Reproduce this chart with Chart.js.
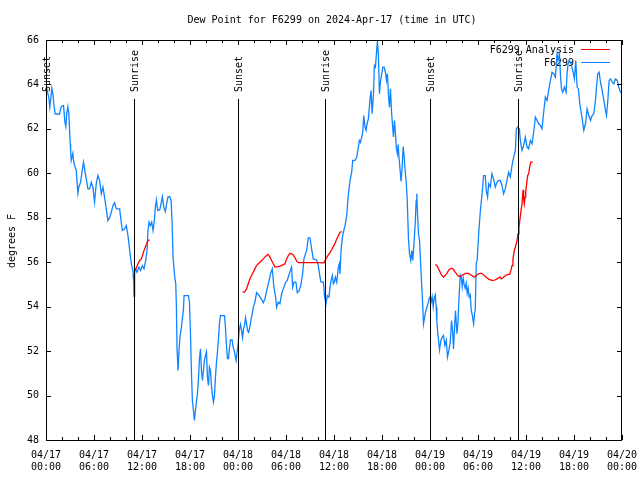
<!DOCTYPE html>
<html>
<head>
<meta charset="utf-8">
<script src="https://cdn.jsdelivr.net/npm/chart.js@4/dist/chart.umd.min.js"></script>
<style>
  html, body { margin: 0; padding: 0; background: #fff; }
  canvas { display: block; }
</style>
</head>
<body>
<canvas id="dewChart" width="640" height="480"></canvas>
<script>
// hours since 04/17 00:00 UTC
var blueHours = [0.00,0.23,0.36,0.48,0.61,0.73,0.86,0.98,1.15,1.69,1.90,2.19,2.36,2.48,2.61,2.73,2.86,2.94,3.03,3.08,3.15,3.36,3.44,3.57,3.78,3.99,4.11,4.32,4.53,4.69,4.82,5.03,5.24,5.45,5.66,5.86,6.07,6.28,6.49,6.70,6.91,7.12,7.32,7.53,7.74,7.95,8.16,8.37,8.58,8.79,9.20,9.41,9.54,9.83,10.04,10.25,10.46,10.67,10.87,10.96,11.00,11.08,11.21,11.37,11.62,11.83,12.04,12.25,12.46,12.63,12.75,12.88,13.04,13.21,13.38,13.55,13.67,13.80,13.96,14.21,14.42,14.54,14.71,14.92,15.05,15.26,15.46,15.63,15.76,15.88,16.09,16.22,16.30,16.38,16.51,16.63,16.76,16.93,17.05,17.18,17.26,17.80,17.93,18.05,18.18,18.30,18.43,18.55,18.68,18.80,18.93,19.06,19.18,19.31,19.43,19.56,19.68,19.81,19.93,20.06,20.18,20.31,20.43,20.56,20.68,20.81,20.93,21.06,21.18,21.31,21.43,21.56,21.68,21.81,22.31,22.43,22.56,22.68,22.81,22.93,23.06,23.27,23.39,23.52,23.64,23.77,23.89,24.02,24.15,24.31,24.44,24.57,24.69,24.82,24.94,25.07,25.19,25.32,25.48,25.61,25.78,25.90,26.11,26.32,26.53,26.95,27.15,27.36,27.57,27.78,28.07,28.28,28.49,28.70,28.82,29.03,29.24,29.45,29.66,29.95,30.16,30.41,30.70,30.83,31.00,31.24,31.41,31.62,31.83,32.08,32.24,32.58,32.79,33.00,33.20,33.41,33.83,34.04,34.25,34.38,34.67,34.83,35.00,35.17,35.38,35.50,35.63,35.79,35.92,36.04,36.17,36.34,36.55,36.67,36.75,36.88,37.00,37.17,37.38,37.59,37.76,37.88,38.01,38.21,38.34,38.63,38.84,39.05,39.17,39.30,39.47,39.59,39.72,39.88,40.01,40.18,40.30,40.51,40.64,40.76,40.93,41.05,41.18,41.30,41.43,41.55,41.68,41.80,41.93,42.10,42.26,42.43,42.56,42.68,42.81,42.93,43.06,43.18,43.31,43.43,43.56,43.68,43.81,43.93,44.01,44.14,44.26,44.39,44.51,44.64,44.77,44.89,45.02,45.14,45.31,45.44,45.60,45.73,45.85,46.02,46.15,46.27,46.35,46.44,46.56,46.69,46.85,47.02,47.19,47.40,47.61,47.81,47.90,48.02,48.15,48.27,48.40,48.52,48.65,48.77,48.86,48.98,49.11,49.19,49.36,49.53,49.69,49.86,50.03,50.19,50.36,50.53,50.69,50.82,50.94,51.07,51.19,51.36,51.49,51.61,51.78,51.90,52.03,52.15,52.28,52.40,52.53,52.65,52.78,52.90,53.03,53.15,53.28,53.45,53.57,53.66,53.78,53.90,54.07,54.28,54.49,54.70,54.91,55.03,55.20,55.33,55.54,55.74,55.95,56.16,56.37,56.58,56.79,57.00,57.20,57.41,57.62,57.83,58.04,58.25,58.46,58.67,58.79,58.96,59.17,59.29,59.50,59.71,59.92,60.13,60.33,60.54,60.75,60.96,61.17,61.38,61.59,61.80,62.00,62.21,62.42,62.63,62.84,63.05,63.26,63.46,63.67,63.88,64.01,64.17,64.30,64.43,64.59,64.80,65.01,65.13,65.26,65.43,65.63,65.84,66.05,66.22,66.39,66.55,66.72,66.89,67.05,67.22,67.43,67.64,67.85,68.06,68.26,68.47,68.68,68.81,68.97,69.14,69.31,69.52,69.73,69.93,70.06,70.23,70.39,70.56,70.77,70.98,71.19,71.40,71.60,71.73,71.90];
var blueDew = [64.0,63.58,63.4,62.97,63.4,63.83,63.58,63.1,62.67,62.67,63.0,63.05,62.3,62.1,62.75,63.0,62.67,62.0,61.33,61.03,60.58,60.9,60.58,60.35,60.13,59.1,59.4,59.6,60.13,60.5,60.2,59.75,59.3,59.3,59.6,59.38,58.7,59.53,59.9,59.68,59.08,59.38,58.93,58.4,57.87,58.0,58.25,58.55,58.68,58.4,58.4,57.8,57.43,57.5,57.65,57.2,56.53,55.93,55.6,55.1,54.45,55.7,55.7,55.55,55.78,55.63,55.85,55.7,56.08,56.53,57.43,57.8,57.65,57.8,57.43,57.9,58.48,58.8,58.33,58.35,58.7,58.95,58.5,58.28,58.58,58.95,58.95,58.8,57.8,56.23,55.33,55.03,54.0,52.1,51.13,52.03,52.7,53.08,53.45,53.9,54.5,54.5,54.2,52.93,51.05,49.78,49.33,48.88,49.33,49.71,50.08,50.76,51.66,52.1,51.13,50.68,51.13,51.58,51.8,51.96,50.83,50.46,51.28,51.13,50.46,50.0,49.71,50.0,50.83,51.5,51.96,52.55,53.23,53.6,53.6,53.08,52.25,51.66,51.66,52.1,52.5,52.5,52.18,52.03,51.8,51.58,51.96,52.33,52.93,53.2,52.93,52.6,53.0,53.15,53.5,53.23,52.93,52.85,53.08,53.38,53.68,53.97,54.2,54.63,54.55,54.33,54.18,54.33,54.7,55.03,55.48,55.7,54.88,54.43,53.97,54.2,54.13,54.58,54.8,55.1,55.18,55.48,55.78,54.88,55.1,55.1,54.63,54.7,54.93,55.48,56.15,56.53,57.1,57.1,56.6,56.15,56.1,55.85,55.33,55.1,55.1,54.43,54.13,54.5,54.43,54.88,55.18,55.4,55.03,55.1,55.33,55.1,55.78,55.93,55.48,56.53,56.98,57.35,57.65,58.1,58.93,59.3,59.68,60.05,60.58,60.58,60.73,61.18,61.48,61.4,61.63,61.85,62.6,62.08,61.93,62.3,62.45,63.35,63.73,62.68,63.5,64.85,64.78,65.38,65.95,65.3,63.58,64.1,64.4,64.78,64.78,64.55,64.18,64.48,63.5,62.98,63.8,62.83,62.2,61.64,62.38,61.78,61.1,60.88,61.3,60.68,60.15,59.63,60.23,61.2,60.75,60.15,59.63,58.95,57.05,56.38,56.08,56.53,56.08,56.98,57.73,58.78,59.08,58.18,57.28,56.98,55.78,54.58,53.23,53.68,53.98,54.2,54.38,54.45,54.23,54.45,54.0,54.38,54.53,54.0,53.3,52.78,52.33,52.05,52.48,52.63,52.7,52.25,52.48,51.73,52.03,52.4,53.38,52.93,52.1,53.08,53.83,52.78,53.23,54.28,55.43,55.35,54.9,55.28,54.98,54.83,55.05,54.6,54.83,54.45,54.53,53.85,53.63,53.23,53.68,53.9,55.95,56.1,57.2,58.25,59.0,59.9,59.9,59.23,58.93,59.53,59.38,59.98,59.75,59.38,59.6,59.68,59.68,59.45,59.08,59.3,59.68,60.05,59.83,60.35,60.73,61.03,62.0,62.08,62.0,61.48,61.03,61.25,61.63,61.18,61.1,61.48,61.33,61.85,62.53,62.38,62.23,62.15,62.0,62.75,63.43,63.28,63.73,64.18,64.55,64.48,64.33,65.38,65.08,65.38,64.48,63.8,63.65,63.88,63.65,64.48,64.93,65.08,64.93,64.63,64.25,65.08,63.88,63.8,63.13,62.75,62.38,61.93,62.23,62.9,62.6,62.38,62.6,62.68,63.28,63.88,64.48,64.55,64.1,63.73,63.28,62.83,62.6,63.28,64.18,64.25,64.1,64.03,64.25,64.18,63.88,63.73,63.6];

// analysis series, null breaks the line between runs
var redHours = [10.96,11.08,11.29,11.5,11.71,11.92,12.12,12.33,12.54,12.75,12.96,13.0,24.56,24.8,25.07,25.28,25.48,25.69,25.9,26.11,26.32,26.53,26.74,26.95,27.15,27.36,27.57,27.78,27.99,28.2,28.41,28.62,29.03,29.45,29.87,30.08,30.29,30.5,30.7,30.91,31.12,31.33,31.54,32.58,33.83,34.75,34.88,35.08,35.29,35.5,35.71,35.92,36.13,36.34,36.55,36.75,36.96,37.0,48.65,48.86,49.07,49.27,49.48,49.69,49.9,50.11,50.32,50.53,50.74,50.94,51.15,51.36,51.57,51.78,51.99,52.2,52.41,52.61,52.82,53.03,53.24,53.45,53.66,53.87,54.07,54.28,54.49,54.7,54.91,55.12,55.33,55.54,55.74,55.95,56.16,56.37,56.58,56.79,56.91,57.12,57.33,57.54,57.75,57.96,58.12,58.25,58.37,58.54,58.67,58.87,59.0,59.12,59.25,59.38,59.5,59.63,59.71,59.79,59.88,59.96,60.08,60.21,60.33,60.46,60.59,60.84];
var redDew = [55.3,55.6,55.75,55.93,56.08,56.15,56.38,56.6,56.8,56.98,57.0,null,54.65,54.65,54.8,55.03,55.25,55.4,55.55,55.7,55.85,55.93,56.0,56.08,56.15,56.23,56.3,56.35,56.23,56.08,55.93,55.78,55.8,55.85,55.93,56.15,56.3,56.4,56.38,56.33,56.2,56.05,55.98,55.98,55.98,55.97,56.08,56.2,56.33,56.43,56.56,56.7,56.85,57.05,57.2,57.35,57.38,null,55.9,55.85,55.7,55.55,55.4,55.33,55.4,55.5,55.63,55.7,55.73,55.67,55.55,55.45,55.36,55.36,55.4,55.45,55.5,55.5,55.5,55.45,55.4,55.33,55.36,55.42,55.48,55.5,55.5,55.43,55.36,55.3,55.24,55.21,55.18,55.18,55.21,55.25,55.3,55.33,55.25,55.3,55.37,55.42,55.45,55.45,55.63,55.85,56.15,56.53,56.68,56.95,57.28,57.58,57.95,58.33,58.63,59.26,58.85,58.63,58.93,59.15,59.53,59.9,59.98,60.28,60.5,60.5];

var sunHours = [0.0, 11.0, 24.02, 34.92, 48.06, 58.96];
var sunLabels = ["Sunset", "Sunrise", "Sunset", "Sunrise", "Sunset", "Sunrise"];

var chartTitle = "Dew Point for F6299 on 2024-Apr-17 (time in UTC)";
var yTitle = "degrees F";

var monoFont = "DejaVu Sans Mono";
var font = { family: monoFont, size: 10 };

function toPoints(xs, ys) {
  var pts = [];
  for (var i = 0; i < xs.length; i++) pts.push({ x: xs[i], y: ys[i] });
  return pts;
}

function two(n) { return (n < 10 ? "0" : "") + n; }

// frame, inward ticks, sun lines, labels, legend
var overlay = {
  id: "overlay",
  beforeDatasetsDraw: function (chart) {
    var c = chart.ctx;
    c.save();
    c.fillStyle = "#000";
    c.font = "10px '" + monoFont + "'";
    c.textBaseline = "middle";
    c.textAlign = "center";
    c.fillText(chartTitle, 332, 20);

    c.save();
    c.translate(12, 241);
    c.rotate(-Math.PI / 2);
    c.fillText(yTitle, 0, 0);
    c.restore();

    // key
    c.textAlign = "right";
    var rows = [50, 63];
    chart.data.datasets.forEach(function (ds, i) {
      c.fillStyle = "#000";
      c.fillText(ds.label, 574, rows[i]);
      c.strokeStyle = ds.borderColor;
      c.lineWidth = 1;
      c.beginPath();
      c.moveTo(581, rows[i] - 0.5);
      c.lineTo(610, rows[i] - 0.5);
      c.stroke();
    });
    c.restore();
  },
  afterDatasetsDraw: function (chart) {
    var c = chart.ctx;
    var a = chart.chartArea;
    var xs = chart.scales.x, ys = chart.scales.y;
    c.save();
    c.strokeStyle = "#000";
    c.lineWidth = 1;

    c.beginPath();
    for (var h = 0; h <= 72; h += 2) {
      var px = Math.round(xs.getPixelForValue(h)) + 0.5;
      var len = (h % 6 === 0) ? 5 : 3;
      c.moveTo(px, a.bottom); c.lineTo(px, a.bottom - len);
      c.moveTo(px, a.top); c.lineTo(px, a.top + len);
    }
    for (var v = 48; v <= 66; v += 2) {
      var py = Math.round(ys.getPixelForValue(v)) + 0.5;
      c.moveTo(a.left, py); c.lineTo(a.left + 5, py);
      c.moveTo(a.right, py); c.lineTo(a.right - 5, py);
    }
    c.stroke();

    c.strokeRect(Math.round(a.left) + 0.5, Math.round(a.top) + 0.5,
      Math.round(a.right - a.left) - 1, Math.round(a.bottom - a.top));

    c.fillStyle = "#000";
    c.font = "10px '" + monoFont + "'";
    c.textAlign = "left";
    c.textBaseline = "middle";
    sunHours.forEach(function (sh, i) {
      var px = Math.round(xs.getPixelForValue(sh)) + 0.5;
      c.beginPath();
      c.moveTo(px, 99);
      c.lineTo(px, a.bottom);
      c.stroke();
      c.save();
      c.translate(px + 1, 92);
      c.rotate(-Math.PI / 2);
      c.fillText(sunLabels[i], 0, 0);
      c.restore();
    });
    c.restore();
  }
};

var ctx = document.getElementById("dewChart").getContext("2d");
var chart = new Chart(ctx, {
  type: "line",
  data: {
    datasets: [
      {
        label: "F6299 Analysis",
        data: toPoints(redHours, redDew),
        borderColor: "#ff0000",
        borderWidth: 1.3,
        pointRadius: 0,
        spanGaps: false,
        tension: 0
      },
      {
        label: "F6299",
        data: toPoints(blueHours, blueDew),
        borderColor: "#1084ff",
        borderWidth: 1.3,
        pointRadius: 0,
        tension: 0
      }
    ]
  },
  options: {
    responsive: false,
    animation: false,
    devicePixelRatio: 1,
    layout: { padding: { top: 40, right: 18, left: 0, bottom: 0 } },
    plugins: {
      legend: { display: false },
      title: { display: false },
      tooltip: { enabled: false }
    },
    scales: {
      x: {
        type: "linear",
        min: 0,
        max: 72,
        grid: { display: false, drawTicks: false },
        border: { display: false },
        ticks: {
          stepSize: 6,
          autoSkip: false,
          maxRotation: 0,
          padding: 9,
          color: "#000",
          font: font,
          callback: function (val) {
            var day = 17 + Math.floor(val / 24);
            return ["04/" + two(day), two(val % 24) + ":00"];
          }
        },
        afterFit: function (s) {
          s.height = 40;
          s.paddingLeft = 0;
          s.paddingRight = 0;
        }
      },
      y: {
        min: 48,
        max: 66,
        grid: { display: false, drawTicks: false },
        border: { display: false },
        ticks: { stepSize: 2, padding: 7, color: "#000", font: font },
        afterFit: function (s) {
          s.width = 46;
          s.paddingTop = 0;
          s.paddingBottom = 0;
        }
      }
    }
  },
  plugins: [overlay]
});
</script>
</body>
</html>
